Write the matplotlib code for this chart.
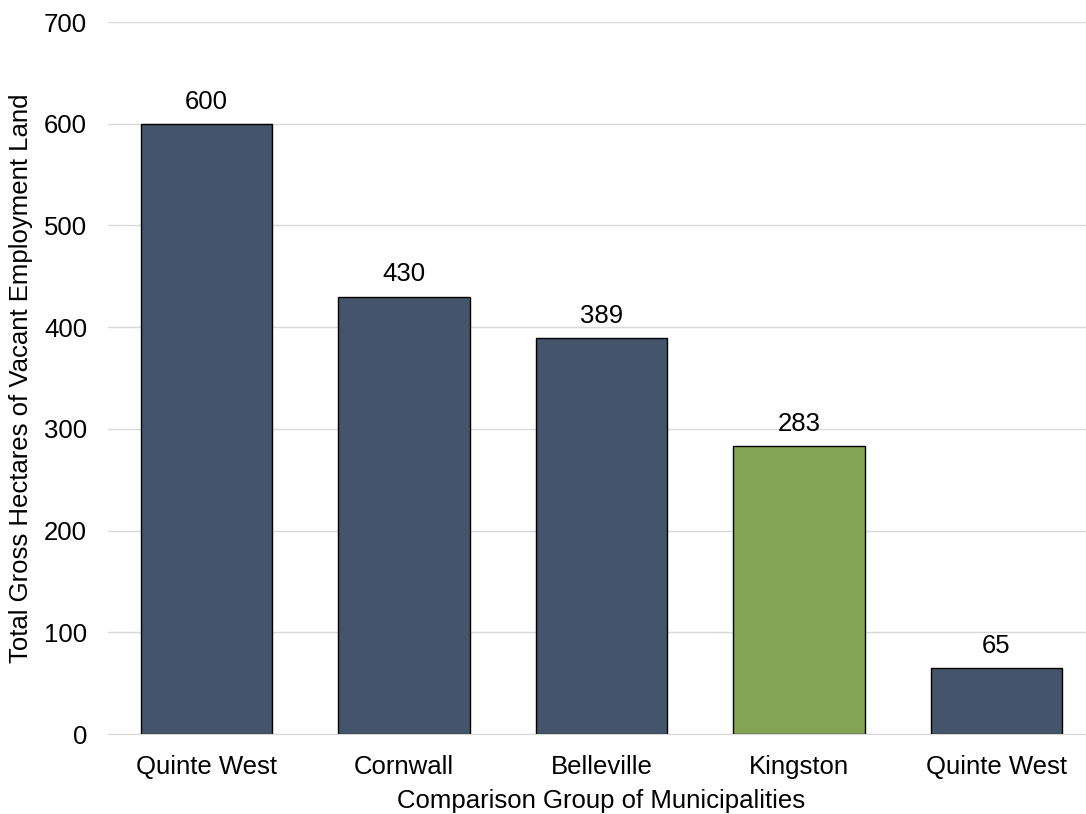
import matplotlib
matplotlib.use("Agg")
import matplotlib.pyplot as plt

categories = ["Quinte West", "Cornwall", "Belleville", "Kingston", "Quinte West"]
values = [600, 430, 389, 283, 65]
colors = ["#44546A", "#44546A", "#44546A", "#84A556", "#44546A"]
yticks = [0, 100, 200, 300, 400, 500, 600, 700]

plt.rcParams['font.family'] = ['Liberation Sans', 'DejaVu Sans']
FS = 18.5

fig = plt.figure(figsize=(10.86, 8.14), dpi=100)
ax = fig.add_axes([108/1086, (814-734)/814, (1095-108)/1086, (734-22)/814])

x = list(range(len(categories)))
ax.bar(x, values, width=0.665, color=colors, edgecolor="black", linewidth=1.0, zorder=3)
for xi, v in zip(x, values):
    ax.text(xi, v + 10, f"{v}", ha="center", va="bottom", fontsize=FS, color="black")

ax.set_xlim(-0.5, len(categories) - 0.5)
ax.set_ylim(0, 700)
ax.set_yticks(yticks)
ax.set_yticklabels([str(t) for t in yticks], fontsize=FS)
ax.set_xticks(x)
ax.set_xticklabels(categories, fontsize=FS)
ax.tick_params(axis="y", length=0, pad=15)
ax.tick_params(axis="x", length=0, pad=15)
ax.grid(axis="y", color="#D9D9D9", linewidth=1.0, zorder=0)
for s in ["top", "right", "left"]:
    ax.spines[s].set_visible(False)
ax.spines["bottom"].set_color("#D9D9D9")
ax.spines["bottom"].set_zorder(4)
ax.set_xlabel("Comparison Group of Municipalities", fontsize=FS, labelpad=7)
ax.set_ylabel("Total Gross Hectares of Vacant Employment Land", fontsize=FS, labelpad=8)

fig.savefig("out.png", dpi=100)
